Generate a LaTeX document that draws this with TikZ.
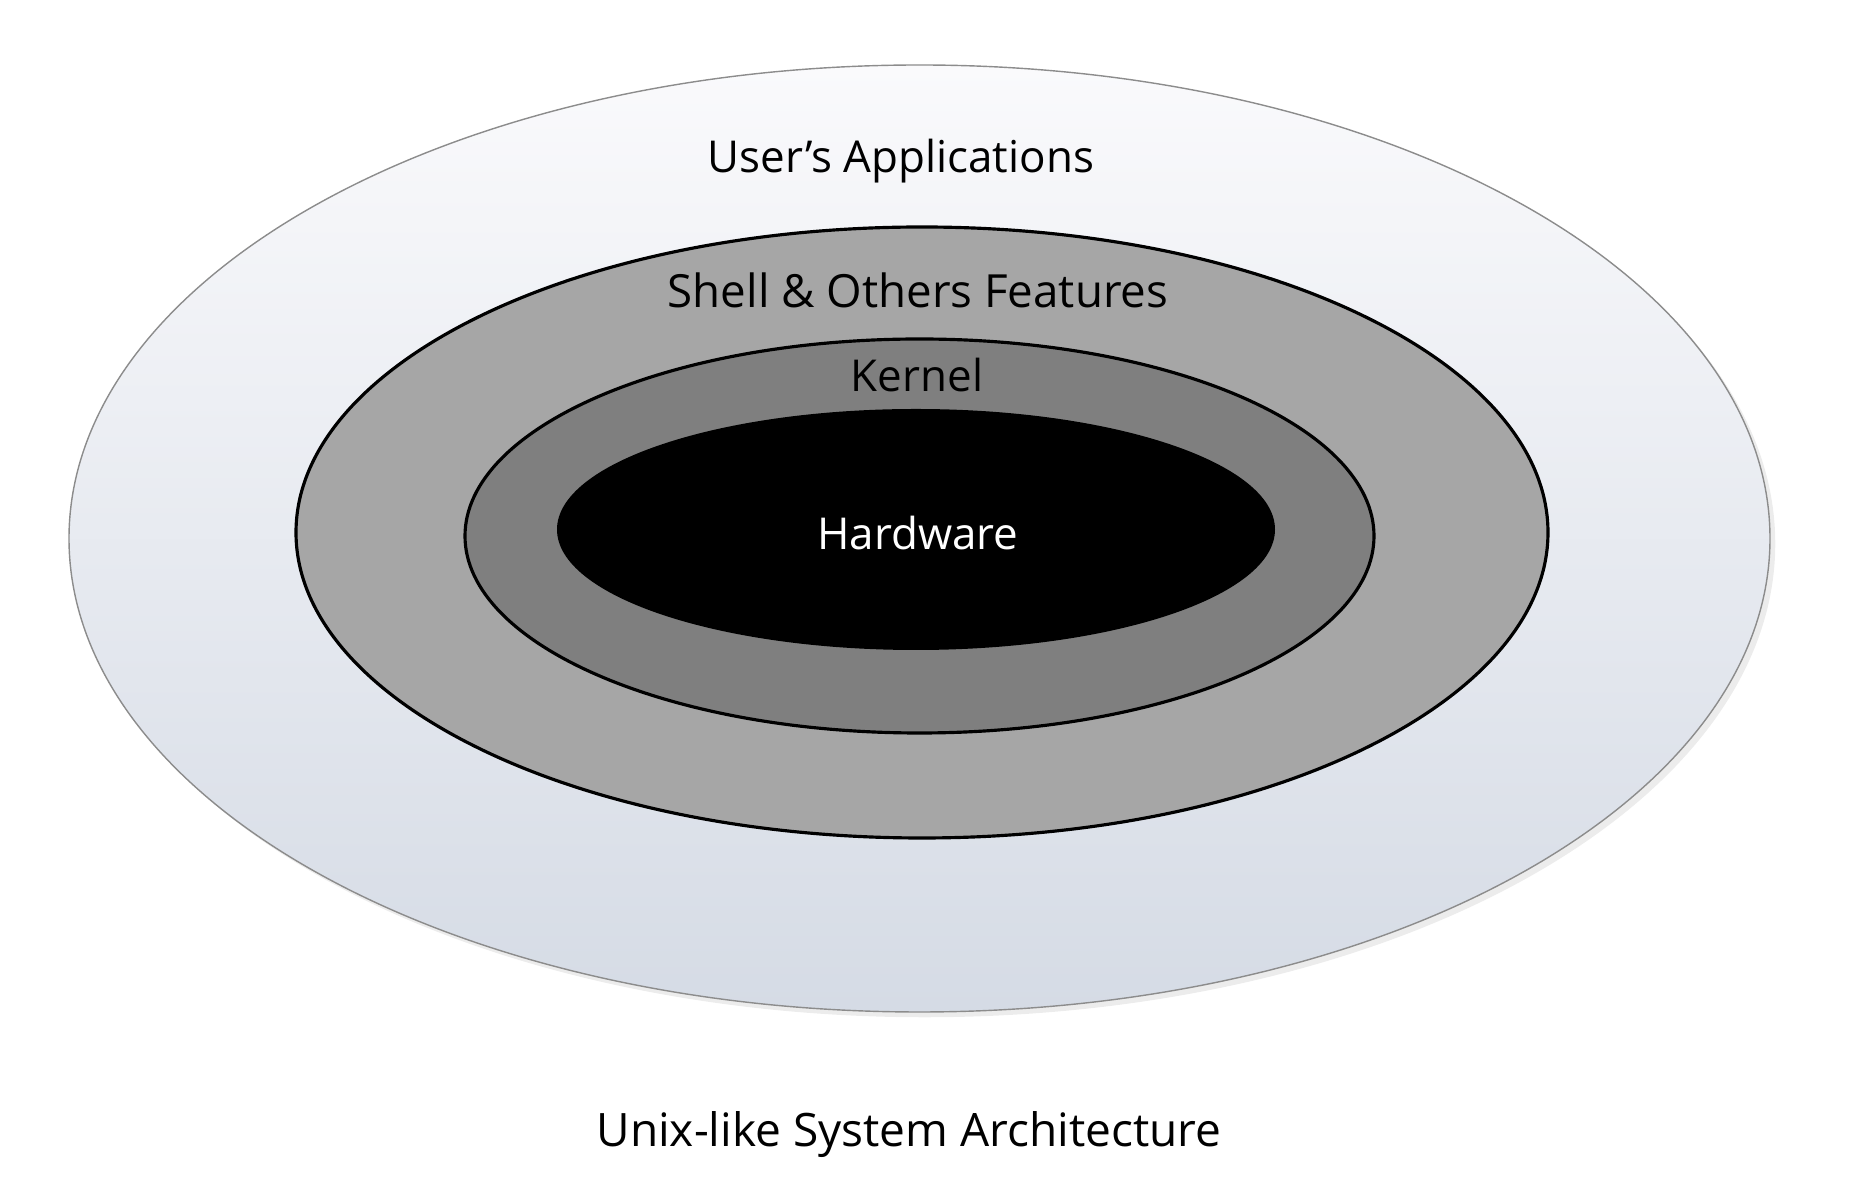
\documentclass[tikz,border=0pt]{standalone}
\usepackage{fontspec}
\setmainfont{Open Sans}
\usepackage{tikz}
\usetikzlibrary{shapes.geometric,shadows,backgrounds}
\definecolor{appsTop}{RGB}{250,250,252}
\definecolor{appsBot}{RGB}{213,219,229}
\definecolor{appsLine}{RGB}{140,140,140}
\definecolor{shellGray}{RGB}{166,166,166}
\definecolor{kernelGray}{RGB}{127,127,127}
\tikzset{
  layerApps/.style={ ellipse, draw=appsLine, line width=0.4pt, top color=appsTop, bottom color=appsBot,
    drop shadow={shadow xshift=1.5pt, shadow yshift=-1.5pt, opacity=0.15}, inner sep=0pt }
}
\tikzset{
  layerShell/.style={ ellipse, draw, line width=0.9pt, fill=shellGray, inner sep=0pt }
}
\tikzset{
  layerKernel/.style={ ellipse, draw, line width=0.9pt, fill=kernelGray, inner sep=0pt }
}
\tikzset{
  layerHw/.style={ ellipse, fill=black, inner sep=0pt }
}
\tikzset{
  lbl/.style={ anchor=base, inner sep=0pt, font=\fontsize{12.5}{15}\selectfont }
}
\begin{document}
\begin{tikzpicture}
      \useasboundingbox (0, 0) rectangle (18.52, 11.92);
      % layers, from outside in
      \node[layerApps, minimum width=17.01cm, minimum height=9.47cm] (apps) at (9.195, 6.535) {};
      \node[layerShell, minimum width=12.52cm, minimum height=6.11cm] (shell) at (9.22, 6.595) {};
      \node[layerKernel, minimum width=9.09cm, minimum height=3.94cm] (kernel) at (9.195, 6.56) {};
      \node[layerHw, minimum width=7.18cm, minimum height=2.41cm] (hw) at (9.16, 6.625) {};
      % labels
      \node[lbl] (appsText) at (9.01, 10.19) {User’s Applications};
      \node[lbl, font=\fontsize{13}{15}\selectfont] (shellText) at (9.18, 8.84) {Shell \& Others Features};
      \node[lbl] (kernelText) at (9.17, 8.00) {Kernel};
      \node[lbl, text=white] (hwText) at (9.18, 6.42) {Hardware};
      \node[lbl, font=\fontsize{13.1}{15}\selectfont] (caption) at (9.09, 0.45) {Unix-like System Architecture};
    \end{tikzpicture}
\end{document}
